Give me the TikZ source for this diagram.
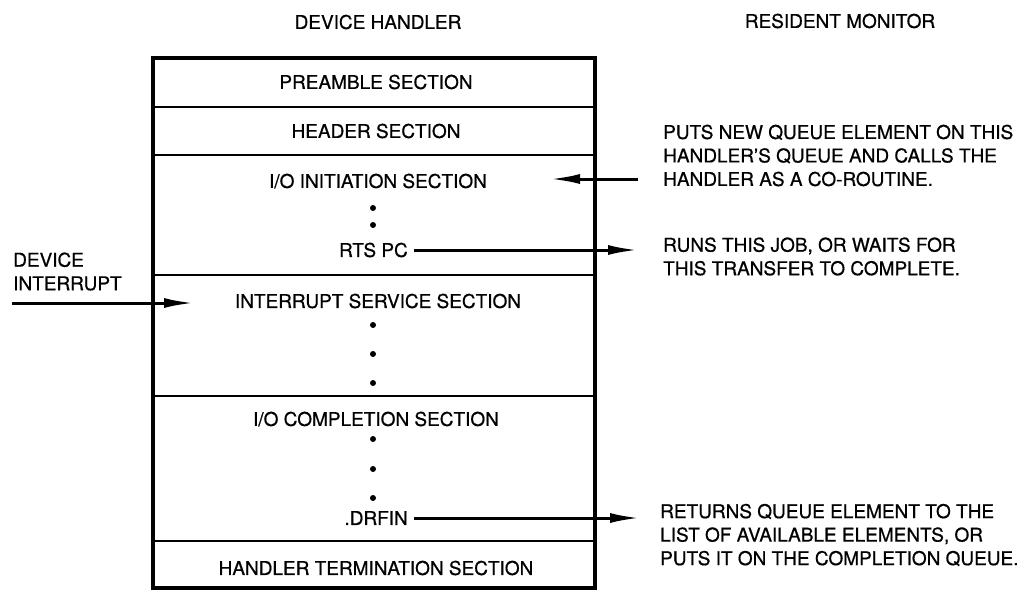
\documentclass[tikz,border=0pt]{standalone}
\usepackage{fontspec}
\setmainfont{TeX Gyre Heros}[FakeBold=0.7]
\usetikzlibrary{arrows.meta}
\begin{document}
\begin{tikzpicture}[x=1pt,y=-1pt,
    every node/.style={font=\fontsize{19}{23.5}\selectfont, inner sep=0pt},
    note/.style={align=left, anchor=west},
    divider/.style={line width=2pt},
    flow/.style={line width=3pt, -{Latex[length=30pt,width=10pt]}},
    bullet/.style={circle, fill, inner sep=0pt, minimum size=6pt}]
  \useasboundingbox (0,0) rectangle (1035,590);
  % titles
  \node (handlertitle) at (378,22) {DEVICE HANDLER};
  \node (monitortitle) at (840,21) {RESIDENT MONITOR};
  % handler box and its sections
  \draw[line width=3.5pt] (153,58) rectangle (595,588);
  \foreach \y in {107,155,275,396,541}
    \draw[divider] (153,\y) -- (595,\y);
  \node (preamble) at (376,82) {PREAMBLE SECTION};
  \node (header) at (376,131) {HEADER SECTION};
  \node (init) at (378,181) {I/O INITIATION SECTION};
  \node[anchor=east] (rts) at (408,250) {RTS PC};
  \node (service) at (378,301) {INTERRUPT SERVICE SECTION};
  \node (completion) at (376,419) {I/O COMPLETION SECTION};
  \node[anchor=east] (drfin) at (408,518) {.DRFIN};
  \node (termination) at (376,568) {HANDLER TERMINATION SECTION};
  \foreach \y in {208,225,325,354,383,439,469,498}
    \node[bullet] (b\y) at (373,\y) {};
  % interrupt entry
  \node[note] (irq) at (13,271.5) {DEVICE\\INTERRUPT};
  \coordinate (irqstart) at (12,303);
  \coordinate (irqtip) at (194,303);
  \draw[flow] (irqstart) -- (irqtip);
  % monitor side
  \node[note] (putsnote) at (663,155.5) {PUTS NEW QUEUE ELEMENT ON THIS\\HANDLER'S QUEUE AND CALLS THE\\HANDLER AS A CO-ROUTINE.};
  \node[note] (runsnote) at (663,256.5) {RUNS THIS JOB, OR WAITS FOR\\THIS TRANSFER TO COMPLETE.};
  \node[note] (returnsnote) at (660,535) {RETURNS QUEUE ELEMENT TO THE\\LIST OF AVAILABLE ELEMENTS, OR\\PUTS IT ON THE COMPLETION QUEUE.};
  \coordinate (callstart) at (638,179);
  \coordinate (calltip) at (550,179);
  \coordinate (rtstip) at (638,250);
  \coordinate (drfintip) at (640,518);
  \draw[flow] (callstart) -- (calltip);
  \draw[flow] ([xshift=6pt]rts.east) -- (rtstip);
  \draw[flow] ([xshift=6pt]drfin.east) -- (drfintip);
\end{tikzpicture}
\end{document}
